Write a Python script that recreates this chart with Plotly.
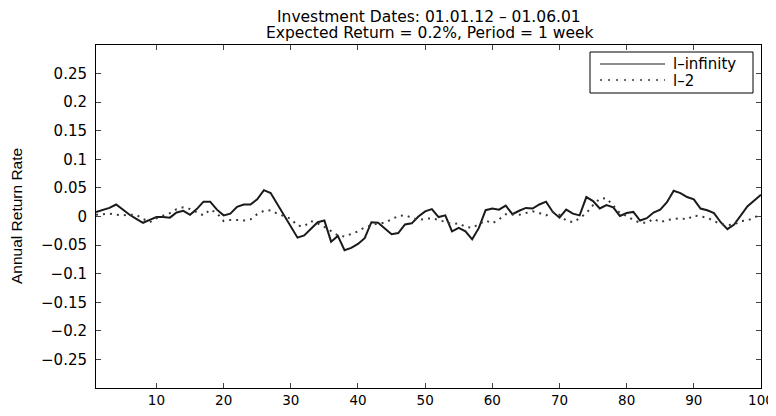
import plotly.graph_objects as go

weeks = list(range(1, 101))

l_infinity = [
    0.008, 0.011, 0.015, 0.021, 0.012, 0.003, -0.004, -0.011, -0.006, -0.001,
    -0.001, -0.002, 0.007, 0.010, 0.003, 0.013, 0.026, 0.026, 0.012, 0.002,
    0.005, 0.017, 0.021, 0.021, 0.030, 0.046, 0.041, 0.021, 0.002, -0.018,
    -0.037, -0.033, -0.022, -0.010, -0.007, -0.044, -0.034, -0.059, -0.055, -0.048,
    -0.038, -0.010, -0.011, -0.021, -0.031, -0.029, -0.014, -0.012, 0.000, 0.009,
    0.013, -0.001, 0.002, -0.026, -0.020, -0.026, -0.040, -0.020, 0.011, 0.014,
    0.012, 0.019, 0.004, 0.010, 0.015, 0.014, 0.021, 0.026, 0.008, -0.002,
    0.012, 0.005, 0.002, 0.034, 0.027, 0.014, 0.020, 0.016, 0.001, 0.006,
    0.008, -0.007, -0.003, 0.007, 0.012, 0.025, 0.045, 0.041, 0.034, 0.030,
    0.014, 0.011, 0.006, -0.010, -0.022, -0.014, 0.002, 0.018, 0.028, 0.038,
]

l_2 = [
    0.003, 0.004, 0.005, 0.003, 0.002, 0.003, 0.003, -0.004, -0.010, -0.003,
    0.001, 0.006, 0.013, 0.016, 0.013, 0.008, 0.002, 0.012, 0.006, -0.008,
    -0.006, -0.006, -0.007, -0.005, 0.004, 0.010, 0.011, 0.005, 0.001, -0.004,
    -0.016, -0.017, -0.008, -0.012, -0.018, -0.026, -0.033, -0.035, -0.030, -0.026,
    -0.019, -0.015, -0.012, -0.011, -0.005, 0.001, 0.002, -0.002, -0.006, -0.004,
    -0.003, -0.006, -0.010, -0.013, -0.012, -0.018, -0.020, -0.014, -0.007, -0.012,
    -0.005, 0.004, 0.003, 0.003, 0.006, 0.009, 0.006, 0.002, 0.008, 0.003,
    -0.007, -0.010, -0.003, 0.006, 0.020, 0.031, 0.032, 0.018, 0.006, 0.001,
    -0.006, -0.011, -0.011, -0.004, -0.010, -0.006, -0.004, -0.003, -0.005, 0.002,
    0.000, -0.002, -0.008, -0.013, -0.015, -0.014, -0.008, -0.007, -0.002, 0.005,
]

x_ticks = [10, 20, 30, 40, 50, 60, 70, 80, 90, 100]
y_ticks = [0.25, 0.2, 0.15, 0.1, 0.05, 0, -0.05, -0.1, -0.15, -0.2, -0.25]
y_tick_labels = ["0.25", "0.2", "0.15", "0.1", "0.05", "0",
                 "\u22120.05", "\u22120.1", "\u22120.15", "\u22120.2", "\u22120.25"]

series_names = ["l\u2013infinity", "l\u20132"]
title_lines = ["Investment Dates: 01.01.12 \u2013 01.06.01",
               "Expected Return = 0.2%, Period = 1 week"]
y_title = "Annual Return Rate"

FONT = "DejaVu Sans, Liberation Sans, Arial, sans-serif"
OFF = 8                      # page body margin in the browser
W, H = 776 - OFF, 416 - OFF  # figure size so the page fits the window
# plot box in window pixels: left 96, right 761, top 45, bottom 388
ML, MR, MT, MB = 96 - OFF, 776 - 761, 45 - OFF, 416 - 388


def pxp(x):
    """window x pixel -> paper coordinate"""
    return (x - OFF - ML) / (W - ML - MR)


def pyp(y):
    """window y pixel -> paper coordinate"""
    return 1 - (y - OFF - MT) / (H - MT - MB)


fig = go.Figure()
fig.add_trace(go.Scatter(x=weeks, y=l_infinity, mode="lines", name=series_names[0],
                         line=dict(color="#1a1a1a", width=2), showlegend=False))
fig.add_trace(go.Scatter(x=weeks, y=l_2, mode="lines", name=series_names[1],
                         line=dict(color="#3a3a3a", width=2, dash="2px,5px"),
                         showlegend=False))

fig.update_layout(
    width=W, height=H,
    margin=dict(l=ML, r=MR, t=MT, b=MB, autoexpand=False),
    paper_bgcolor="white", plot_bgcolor="white",
    font=dict(family=FONT, size=15, color="black"),
    xaxis=dict(range=[1, 100], tickvals=x_ticks, ticks="inside", ticklen=5,
               showline=True, linecolor="black", linewidth=1, mirror="ticks",
               showgrid=False, zeroline=False, automargin=False,
               ticklabeloverflow="allow",
               tickfont=dict(family=FONT, size=13.5, color="black")),
    yaxis=dict(range=[-0.3, 0.3], tickvals=y_ticks, ticktext=y_tick_labels,
               ticks="inside", ticklen=5, ticklabelstandoff=5,
               showline=True, linecolor="black", linewidth=1, mirror="ticks",
               showgrid=False, zeroline=False, automargin=False,
               ticklabeloverflow="allow",
               tickfont=dict(family=FONT, size=15, color="black")),
    showlegend=False,
)

# title lines
fig.add_annotation(xref="paper", yref="paper", x=pxp(429), y=pyp(16.5), xanchor="center",
                   yanchor="middle", text=title_lines[0], showarrow=False,
                   font=dict(family=FONT, size=15.5, color="black"))
fig.add_annotation(xref="paper", yref="paper", x=pxp(429), y=pyp(33.5), xanchor="center",
                   yanchor="middle", text=title_lines[1], showarrow=False,
                   font=dict(family=FONT, size=15.5, color="black"))
# y-axis title
fig.add_annotation(xref="paper", yref="paper", x=pxp(17), y=pyp(216), xanchor="center",
                   yanchor="middle", text=y_title, showarrow=False, textangle=-90,
                   font=dict(family="Liberation Sans Narrow, Liberation Sans, Arial", size=15.5,
                             color="black"))

# legend box (MATLAB style)
fig.add_shape(type="rect", xref="paper", yref="paper",
              x0=pxp(590), x1=pxp(753), y0=pyp(93), y1=pyp(52),
              line=dict(color="black", width=1), fillcolor="white", layer="above")
fig.add_shape(type="line", xref="paper", yref="paper", x0=pxp(600), x1=pxp(665),
              y0=pyp(64), y1=pyp(64), line=dict(color="#1a1a1a", width=1.2))
fig.add_shape(type="line", xref="paper", yref="paper", x0=pxp(600), x1=pxp(665),
              y0=pyp(80), y1=pyp(80), line=dict(color="#3a3a3a", width=1.5, dash="2px,6px"))
fig.add_annotation(xref="paper", yref="paper", x=pxp(671), y=pyp(63.5), xanchor="left",
                   yanchor="middle", text=series_names[0], showarrow=False,
                   font=dict(family=FONT, size=15, color="black"))
fig.add_annotation(xref="paper", yref="paper", x=pxp(671), y=pyp(81), xanchor="left",
                   yanchor="middle", text=series_names[1], showarrow=False,
                   font=dict(family=FONT, size=15, color="black"))

fig.write_html("out.html")
